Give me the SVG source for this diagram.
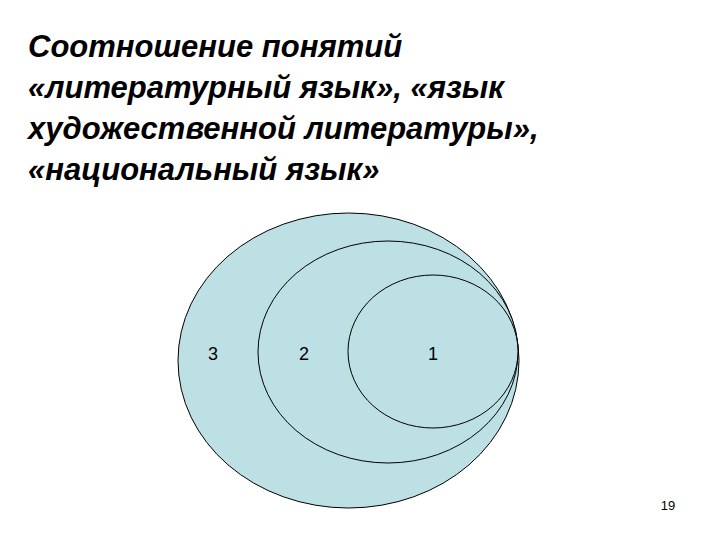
<svg xmlns="http://www.w3.org/2000/svg" width="720" height="540" viewBox="0 0 720 540">
<style>
.title{font-family:"Liberation Sans",Arial,sans-serif;font-weight:bold;font-style:italic;font-size:31px;fill:#000}
.lbl{font-family:"Liberation Sans",Arial,sans-serif;font-size:18px;fill:#000}
.ell{fill:#BDE0E4;stroke:#000;stroke-width:1}
</style>
<rect width="720" height="540" fill="#fff"/>
<g id="title">
<text class="title" x="28" y="57">Соотношение понятий</text>
<text class="title" x="28" y="98">«литературный язык», «язык</text>
<text class="title" x="28" y="139">художественной литературы»,</text>
<text class="title" x="28" y="180">«национальный язык»</text>
</g>
<g id="node3"><ellipse class="ell" cx="348.5" cy="360.5" rx="170.5" ry="147.5"/><text class="lbl" x="213" y="360" text-anchor="middle">3</text></g>
<g id="node2"><ellipse class="ell" cx="388" cy="352" rx="130" ry="111"/><text class="lbl" x="304" y="360" text-anchor="middle">2</text></g>
<g id="node1"><ellipse class="ell" cx="433" cy="351.5" rx="85" ry="76.5"/><text class="lbl" x="433" y="360" text-anchor="middle">1</text></g>
<g id="connectors"/>
<text x="668" y="510" font-family="Liberation Sans,Arial,sans-serif" font-size="13" text-anchor="middle">19</text>
</svg>
